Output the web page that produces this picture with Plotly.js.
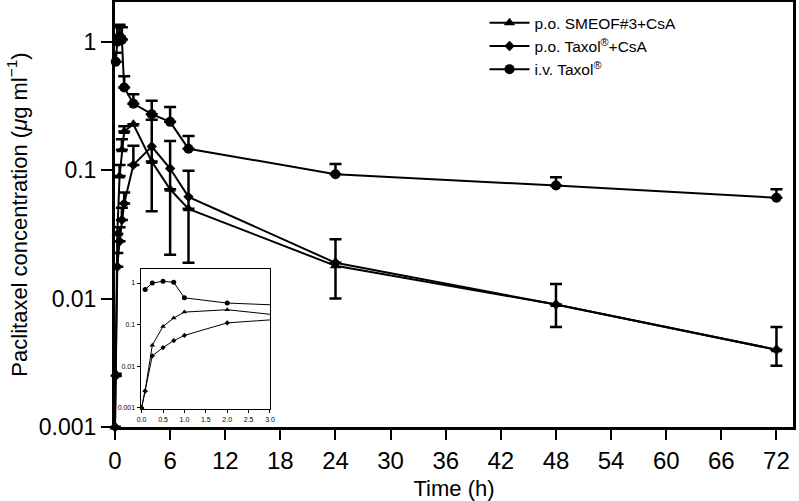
<!DOCTYPE html>
<html>
<head>
<meta charset="utf-8">
<script src="https://cdn.plot.ly/plotly-3.0.1.min.js"></script>
<style>html,body{margin:0;padding:0;background:#fff;}#chart{width:799px;height:501px;}</style>
</head>
<body>
<div id="chart"></div>
<script>
// ---- data ----
const seriesNames = ["p.o. SMEOF#3+CsA", "p.o. Taxol<sup>®</sup>+CsA", "i.v. Taxol<sup>®</sup>"];

const timePO = [0, 0.083, 0.25, 0.5, 0.75, 1, 2, 4, 6, 8, 24, 48, 72];
const smeof = [0.001, 0.0026, 0.032, 0.09, 0.144, 0.2, 0.228, 0.117, 0.071, 0.05, 0.018, 0.009, 0.004];
const smeofErrPlus = [0, 0, 0, 0.02, 0.03, 0.02, 0, 0, 0, 0, 0.011, 0.004, 0.002];
const smeofErrMinus = [0, 0, 0, 0, 0, 0, 0, 0, 0, 0, 0.008, 0.003, 0.001];

const taxolPO = [0.001, 0.0025, 0.0177, 0.028, 0.041, 0.055, 0.11, 0.153, 0.103, 0.062, 0.019, 0.009, 0.004];
const taxolPOErrPlus = [0, 0, 0.005, 0.008, 0.01, 0.012, 0.045, 0.094, 0.066, 0.037, 0, 0, 0];
const taxolPOErrMinus = [0, 0, 0, 0, 0, 0, 0, 0.105, 0.081, 0.043, 0, 0, 0];

const timeIV = [0.083, 0.25, 0.5, 0.75, 1, 2, 4, 6, 8, 24, 48, 72];
const taxolIV = [0.7, 1.0, 1.1, 1.04, 0.44, 0.33, 0.273, 0.238, 0.147, 0.093, 0.076, 0.061];
const taxolIVErrPlus = [0.12, 0.3, 0.26, 0.26, 0.1, 0.06, 0.074, 0.072, 0.038, 0.019, 0.012, 0.010];

const xTicks = [0, 6, 12, 18, 24, 30, 36, 42, 48, 54, 60, 66, 72];
const yTicks = [0.001, 0.01, 0.1, 1];
const yTickText = ["0.001", "0.01", "0.1", "1"];
const insetXTicks = [0, 0.5, 1, 1.5, 2, 2.5, 3];
const insetXTickText = ["0.0", "0.5", "1.0", "1.5", "2.0", "2.5", "3.0"];

// ---- traces ----
const FONT = "'Liberation Sans', Arial, Helvetica, sans-serif";

function mainTrace(x, y, name, symbol, size, ep, em) {
  return {
    x: x, y: y, name: name, type: 'scatter', mode: 'lines+markers',
    line: {color: '#000', width: 2},
    marker: {symbol: symbol, size: size, color: '#000'},
    error_y: {type: 'data', symmetric: false, array: ep, arrayminus: em,
              color: '#000', thickness: 2.5, width: 6},
    cliponaxis: false
  };
}
function insetTrace(x, y, symbol, size) {
  return {
    x: x, y: y, xaxis: 'x2', yaxis: 'y2', type: 'scatter', mode: 'lines+markers',
    showlegend: false,
    line: {color: '#000', width: 1},
    marker: {symbol: symbol, size: size, color: '#000'}
  };
}

const data = [
  mainTrace(timePO, smeof, seriesNames[0], 'triangle-up', 10, smeofErrPlus, smeofErrMinus),
  mainTrace(timePO, taxolPO, seriesNames[1], 'diamond', 8, taxolPOErrPlus, taxolPOErrMinus),
  mainTrace(timeIV, taxolIV, seriesNames[2], 'circle', 10, taxolIVErrPlus, taxolIV.map(() => 0)),
  insetTrace(timePO, smeof, 'triangle-up', 5),
  insetTrace(timePO, taxolPO, 'diamond', 4),
  insetTrace(timeIV, taxolIV, 'circle', 5)
];

const layout = {
  width: 799, height: 501,
  margin: {l: 115, r: 6, t: 2, b: 74},
  paper_bgcolor: '#fff', plot_bgcolor: '#fff',
  font: {family: FONT, color: '#000'},
  showlegend: true,
  legend: {x: 0.545, y: 0.99, xanchor: 'left', yanchor: 'top',
           bgcolor: 'rgba(0,0,0,0)', font: {family: FONT, size: 15.5, color: '#000'},
           itemwidth: 40, tracegroupgap: 0},
  xaxis: {
    domain: [0, 1], range: [0, 73.8], tickvals: xTicks, ticktext: xTicks.map(String),
    ticks: 'outside', ticklen: 10, tickwidth: 2, tickcolor: '#000',
    showline: true, linewidth: 3, linecolor: '#000', mirror: true,
    showgrid: false, zeroline: false,
    tickfont: {family: FONT, size: 24, color: '#000'},
    title: {text: 'Time (h)', font: {family: FONT, size: 22, color: '#000'}, standoff: 8}
  },
  yaxis: {
    domain: [0, 1], type: 'log', range: [-3, 0.31], tickvals: yTicks, ticktext: yTickText,
    ticks: 'outside', ticklen: 11, tickwidth: 2, tickcolor: '#000',
    showline: true, linewidth: 3, linecolor: '#000', mirror: true,
    showgrid: false, zeroline: false,
    tickfont: {family: FONT, size: 23, color: '#000'},
    title: {text: 'Paclitaxel concentration (<i>μ</i>g ml<sup>−1</sup>)',
            font: {family: FONT, size: 22, color: '#000'}, standoff: 6}
  },
  xaxis2: {
    domain: [0.038, 0.2286], anchor: 'y2', range: [-0.02, 3.0],
    tickvals: insetXTicks, ticktext: insetXTickText,
    ticks: 'outside', ticklen: 3, tickwidth: 1, tickcolor: '#000',
    showline: true, linewidth: 1.2, linecolor: '#000', mirror: true,
    showgrid: false, zeroline: false,
    tickfont: {family: FONT, size: 7, color: '#000'}
  },
  yaxis2: {
    domain: [0.0424, 0.372], anchor: 'x2', type: 'log', range: [-3.03, 0.34],
    tickvals: yTicks, ticktext: yTickText,
    ticks: 'outside', ticklen: 3, tickwidth: 1, tickcolor: '#000',
    showline: true, linewidth: 1.2, linecolor: '#000', mirror: true,
    showgrid: false, zeroline: false,
    tickfont: {family: FONT, size: 7, color: '#000'}
  }
};

Plotly.newPlot('chart', data, layout, {displayModeBar: false, staticPlot: true});
</script>
</body>
</html>
